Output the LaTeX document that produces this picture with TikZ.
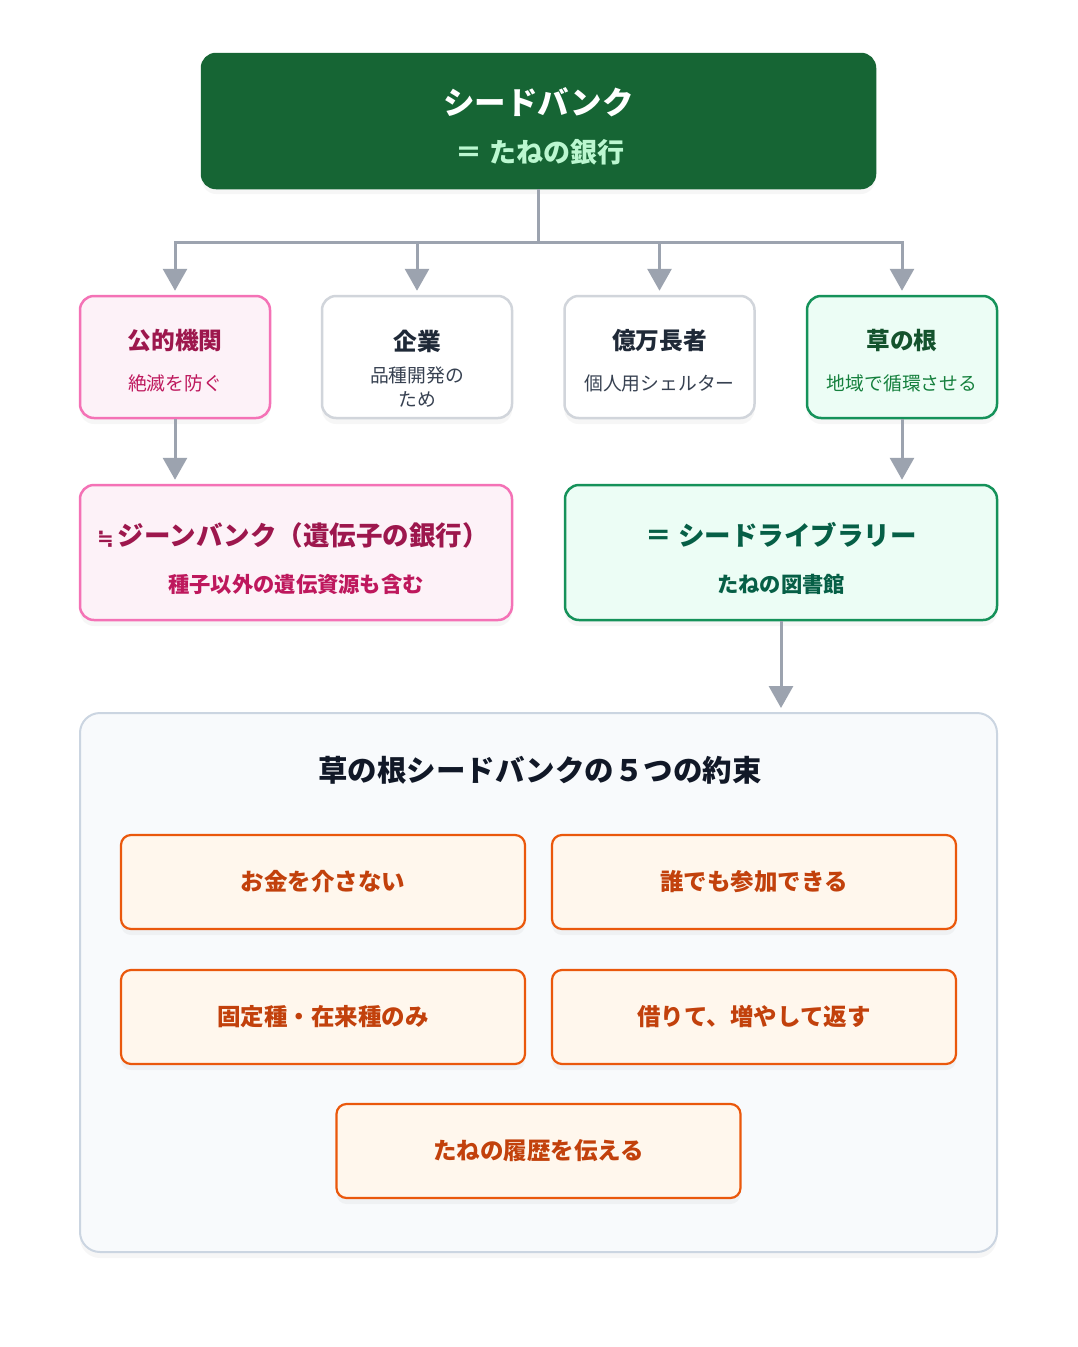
\documentclass[tikz,border=0pt]{standalone}
\usepackage{fontspec}
\setmainfont{Noto Sans CJK JP}
\newfontfamily\symfont{DejaVu Sans}
\usetikzlibrary{arrows.meta,shadows}
\definecolor{topfill}{HTML}{166534}
\definecolor{topsub}{HTML}{BBF7D0}
\definecolor{pinkfill}{HTML}{FDF2F8}
\definecolor{pinkline}{HTML}{F472B6}
\definecolor{pinktitle}{HTML}{9D174D}
\definecolor{pinksub}{HTML}{BE185D}
\definecolor{grayline}{HTML}{D1D5DB}
\definecolor{graytitle}{HTML}{1F2937}
\definecolor{graysub}{HTML}{374151}
\definecolor{greenfill}{HTML}{ECFDF5}
\definecolor{greenline}{HTML}{15925A}
\definecolor{greentitle}{HTML}{14532D}
\definecolor{greensub}{HTML}{15803D}
\definecolor{libtext}{HTML}{065F46}
\definecolor{contfill}{HTML}{F8FAFC}
\definecolor{contline}{HTML}{CBD5E1}
\definecolor{conttitle}{HTML}{111827}
\definecolor{orfill}{HTML}{FFF7ED}
\definecolor{orline}{HTML}{EA580C}
\definecolor{ortext}{HTML}{C2410C}
\definecolor{conncol}{HTML}{9CA3AF}
\begin{document}
\begin{tikzpicture}[x=1pt,y=-1pt,
  box/.style={rectangle, rounded corners=14pt, line width=2.5pt, inner sep=0pt,
    drop shadow={opacity=0.07, shadow xshift=0pt, shadow yshift=-6pt}},
  conn/.style={draw=conncol, line width=3pt},
  arr/.style={conn, -{Triangle[width=24pt,length=22pt]}, shorten >=4pt},
  fT/.style={font=\fontsize{31.5}{36}\selectfont\bfseries},
  fTs/.style={font=\fontsize{27}{30}\selectfont\bfseries},
  fA/.style={font=\fontsize{23.7}{28}\selectfont\bfseries},
  fAs/.style={font=\fontsize{18.8}{24}\selectfont, align=center},
  fB/.style={font=\fontsize{26.5}{30}\selectfont\bfseries},
  fBs/.style={font=\fontsize{21.3}{24}\selectfont\bfseries},
  fC/.style={font=\fontsize{29.5}{32}\selectfont\bfseries},
  fP/.style={font=\fontsize{23.5}{26}\selectfont\bfseries, text=ortext},
  promise/.style={box, fill=orfill, draw=orline, rounded corners=10pt, line width=2.2pt,
    minimum width=404pt, minimum height=94pt}
]
\useasboundingbox[fill=white] (0,0) rectangle (1077,1347);

% top box
\node[box, fill=topfill, draw=topfill, minimum width=673pt, minimum height=134pt] (top) at (538.5,121) {};
\node[fT, text=white] (topT) at (538.5,102) {シードバンク};
\node[fTs, text=topsub] (topS) at (540,152) {＝ たねの銀行};

% row 2
\node[box, fill=pinkfill, draw=pinkline, minimum width=190pt, minimum height=122pt] (pub) at (175,357) {};
\node[fA, text=pinktitle] (pubT) at (175,341) {公的機関};
\node[fAs, text=pinksub] (pubS) at (175,383) {絶滅を防ぐ};

\node[box, fill=white, draw=grayline, minimum width=190pt, minimum height=122pt] (corp) at (417,357) {};
\node[fA, text=graytitle] (corpT) at (417,341) {企業};
\node[fAs, text=graysub] (corpS) at (417,387) {品種開発の\\ため};

\node[box, fill=white, draw=grayline, minimum width=190pt, minimum height=122pt] (rich) at (659.5,357) {};
\node[fA, text=graytitle] (richT) at (659.5,341) {億万長者};
\node[fAs, text=graysub] (richS) at (659.5,383) {個人用シェルター};

\node[box, fill=greenfill, draw=greenline, minimum width=190pt, minimum height=122pt] (grass) at (902,357) {};
\node[fA, text=greentitle] (grassT) at (902,341) {草の根};
\node[fAs, text=greensub] (grassS) at (902,383) {地域で循環させる};

% row 3
\node[box, fill=pinkfill, draw=pinkline, minimum width=432pt, minimum height=135pt] (gene) at (296,552.5) {};
\node[fB, text=pinktitle] (geneT) at (293,535) {{\symfont\fontsize{20}{24}\selectfont ≒}\kern4pt ジーンバンク（遺伝子の銀行）};
\node[fBs, text=pinksub] (geneS) at (296,584) {種子以外の遺伝資源も含む};

\node[box, fill=greenfill, draw=greenline, minimum width=432pt, minimum height=135pt] (lib) at (781,552.5) {};
\node[fB, text=libtext] (libT) at (781,535) {＝ シードライブラリー};
\node[fBs, text=libtext] (libS) at (781,584) {たねの図書館};

% container
\node[box, fill=contfill, draw=contline, line width=2pt, rounded corners=20pt, minimum width=917pt, minimum height=539pt] (cont) at (538.5,982.5) {};
\node[fC, text=conttitle] (contT) at (540,770) {草の根シードバンクの５つの約束};

\node[promise] (p1) at (323,882) {};
\node[fP] (p1T) at (323,882) {お金を介さない};
\node[promise] (p2) at (754,882) {};
\node[fP] (p2T) at (754,882) {誰でも参加できる};
\node[promise] (p3) at (323,1017) {};
\node[fP] (p3T) at (323,1017) {固定種・在来種のみ};
\node[promise] (p4) at (754,1017) {};
\node[fP] (p4T) at (754,1017) {借りて、増やして返す};
\node[promise] (p5) at (538.5,1151) {};
\node[fP] (p5T) at (538.5,1151) {たねの履歴を伝える};

% connectors
\coordinate (j) at (538.5,242);
\draw[conn] (top.south) -- (j);
\draw[arr] (j) -| (pub.north);
\draw[arr] (j) -| (corp.north);
\draw[arr] (j) -| (rich.north);
\draw[arr] (j) -| (grass.north);
\draw[arr] (pub.south) -- (gene.north -| pub.south);
\draw[arr] (grass.south) -- (lib.north -| grass.south);
\draw[arr] (lib.south) -- (lib.south |- cont.north);
\end{tikzpicture}
\end{document}
